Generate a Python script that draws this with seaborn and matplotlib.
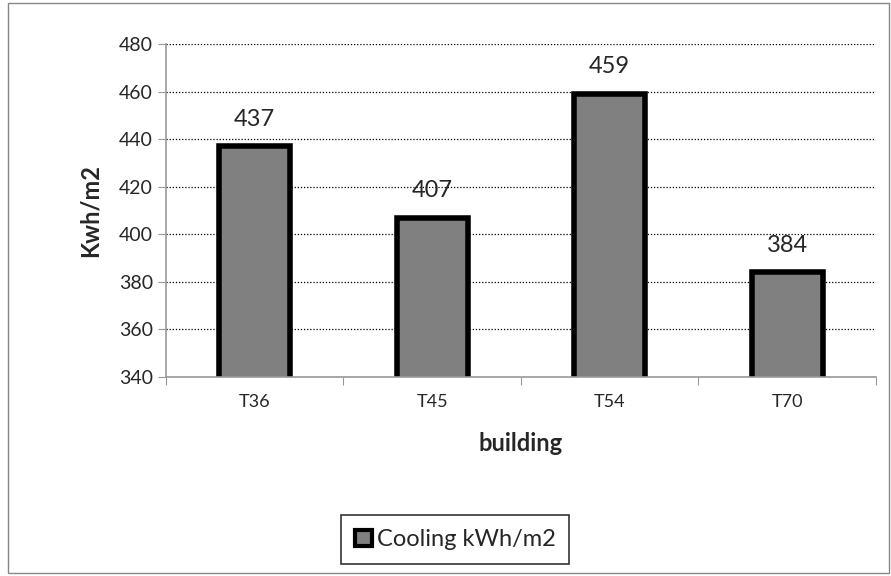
import matplotlib
matplotlib.use("Agg")
import matplotlib.pyplot as plt
import seaborn as sns
import pandas as pd
from matplotlib.patches import Patch

buildings = ["T36", "T45", "T54", "T70"]
cooling = [437, 407, 459, 384]
series_name = "Cooling kWh/m2"

sns.set_style("white")
plt.rcParams['font.family'] = ['Lato', 'DejaVu Sans']

df = pd.DataFrame({"building": buildings, "value": cooling, "series": series_name})

fig = plt.figure(figsize=(8.91, 5.76), dpi=100)
ax = fig.add_axes([0.1863, 0.3455, 0.7967, 0.5781])

sns.barplot(data=df, x="building", y="value", color="#808080", edgecolor="black",
            linewidth=4, width=0.40, ax=ax, saturation=1)

ax.set_ylim(340, 480)
ax.set_yticks(range(340, 481, 20))
ax.yaxis.grid(True, linestyle=(0, (1, 1.5)), color="black", linewidth=0.9)
ax.set_axisbelow(True)
ax.set_xlim(-0.5, 3.5)
ax.set_xticks([-0.5, 0.5, 1.5, 2.5, 3.5], minor=False)
ax.set_xticklabels([])
ax.set_xticks(range(len(buildings)), minor=True)
ax.set_xticklabels(buildings, minor=True, fontsize=13)
ax.tick_params(axis="x", which="minor", length=0, pad=12)
ax.tick_params(axis="x", which="major", length=6, color="#999999", direction="out", bottom=True)
ax.tick_params(axis="y", length=6, color="#999999", direction="out", left=True, labelsize=14)
for s in ["top", "right"]:
    ax.spines[s].set_visible(False)
for s in ["left", "bottom"]:
    ax.spines[s].set_color("#999999")
    ax.spines[s].set_linewidth(1.2)

for i, v in enumerate(cooling):
    ax.text(i, v + 7, str(v), ha="center", va="bottom", fontsize=17)

ax.set_xlabel("building", fontsize=17, fontweight="bold", labelpad=16)
ax.set_ylabel("Kwh/m2", fontsize=17, fontweight="bold", labelpad=12)

handle = Patch(facecolor="#808080", edgecolor="black", linewidth=3)
fig.legend([handle], [series_name], loc="center", bbox_to_anchor=(0.511, 0.063),
           frameon=True, fancybox=False, edgecolor="black", fontsize=17,
           handlelength=0.7, handleheight=0.7, handletextpad=0.2, borderpad=0.6,
           borderaxespad=0)
leg = fig.legends[0]
leg.get_frame().set_linewidth(1.2)

border = plt.Rectangle((0.009, 0.005), 0.989, 0.99, transform=fig.transFigure,
                       fill=False, edgecolor="#888888", linewidth=1)
fig.patches.append(border)

fig.savefig("out.png", dpi=100)
